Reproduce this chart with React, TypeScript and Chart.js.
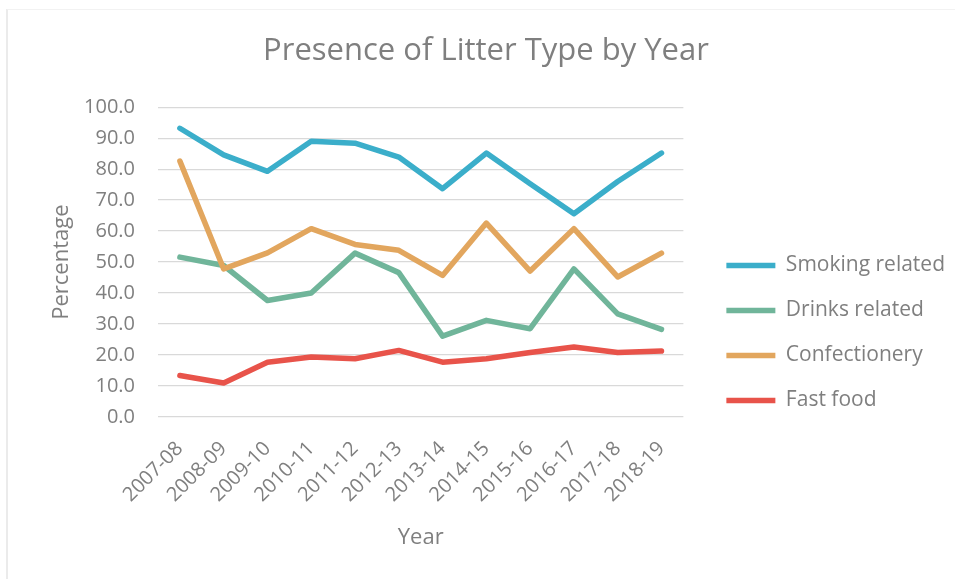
import React, { useEffect, useRef } from "react";
import { Chart, registerables } from "chart.js";

Chart.register(...registerables);

const years = ["2007-08", "2008-09", "2009-10", "2010-11", "2011-12", "2012-13", "2013-14", "2014-15", "2015-16", "2016-17", "2017-18", "2018-19"];
const smoking = [93.2, 84.6, 79.3, 89.0, 88.4, 83.9, 73.7, 85.2, 75.3, 65.6, 76.0, 85.2];
const drinks = [51.6, 48.9, 37.6, 40.0, 52.9, 46.6, 26.1, 31.2, 28.5, 47.8, 33.3, 28.3];
const confectionery = [82.6, 47.8, 53.0, 60.8, 55.7, 53.8, 45.7, 62.6, 47.1, 60.8, 45.2, 52.9];
const fastFood = [13.4, 11.0, 17.7, 19.4, 18.8, 21.5, 17.7, 18.8, 20.8, 22.6, 20.8, 21.3];
const seriesNames = ["Smoking related", "Drinks related", "Confectionery", "Fast food"];
const seriesColors = ["#3BAECA", "#70B59A", "#E2A65E", "#E8534A"];

const FONT = "'Open Sans', 'Liberation Sans', sans-serif";
const TEXT = "#7f7f7f";

export default function App() {
  const ref = useRef<HTMLCanvasElement | null>(null);
  useEffect(() => {
    if (!ref.current) return;
    const values = [smoking, drinks, confectionery, fastFood];
    const chart = new Chart(ref.current, {
      type: "line",
      data: {
        labels: years,
        datasets: values.map((v, i) => ({
          label: seriesNames[i],
          data: v,
          borderColor: seriesColors[i],
          backgroundColor: seriesColors[i],
          borderWidth: 5.5,
          borderCapStyle: "round",
          borderJoinStyle: "round",
          pointRadius: 0,
          tension: 0,
          order: 3 - i,
        })),
      },
      options: {
        responsive: false,
        animation: false,
        layout: { padding: { left: 17, right: 0, top: 0, bottom: 19 } },
        plugins: {
          tooltip: { enabled: false },
          title: {
            display: true,
            text: "Presence of Litter Type by Year",
            color: TEXT,
            font: { family: FONT, size: 31, weight: "normal" },
            padding: { top: 33, bottom: 37 },
          },
          legend: {
            position: "right",
            align: "start",
            fullSize: true,
            maxWidth: 400,
            title: { display: true, text: " ", padding: { top: 219, bottom: 0 }, font: { size: 10 } },
            labels: {
              usePointStyle: true,
              pointStyle: "line",
              pointStyleWidth: 49,
              color: TEXT,
              font: { family: FONT, size: 21 },
              padding: 24,
              sort: (a: any, b: any) => a.datasetIndex - b.datasetIndex,
            },
          },
        },
        scales: {
          x: {
            offset: true,
            grid: { display: false },
            border: { display: false },
            ticks: {
              color: TEXT,
              font: { family: FONT, size: 20 },
              minRotation: 45,
              maxRotation: 45,
              padding: 12,
            },
            title: {
              display: true,
              text: "Year",
              color: TEXT,
              font: { family: FONT, size: 22 },
              padding: { top: 0, bottom: 9 },
            },
            afterFit: (s: any) => {
              s.height = 143;
            },
          },
          y: {
            min: 0,
            max: 100,
            grid: { color: "#d9d9d9", lineWidth: 1.3, drawTicks: false },
            border: { display: false },
            ticks: {
              stepSize: 10,
              color: TEXT,
              font: { family: FONT, size: 20 },
              padding: 23,
              callback: (v: any) => Number(v).toFixed(1),
            },
            title: {
              display: true,
              text: "Percentage",
              color: TEXT,
              font: { family: FONT, size: 22 },
              padding: { top: 32, bottom: 0 },
            },
            afterFit: (s: any) => {
              s.width = 141;
            },
          },
          pad: {
            type: "linear",
            position: "right",
            display: true,
            grid: { display: false },
            border: { display: false },
            ticks: { display: false },
            afterFit: (s: any) => {
              s.width = 19;
            },
          },
        },
      } as any,
    });
    return () => chart.destroy();
  }, []);
  return (
    <div style={{ position: "absolute", left: 0, top: 0, width: 955, height: 579, background: "#fff" }}>
      <div style={{ position: "absolute", left: 6, top: 9, width: 949, height: 570, borderLeft: "2px solid #ebebeb", borderTop: "1px solid #f2f2f2" }} />
      <canvas ref={ref} width={955} height={579} style={{ position: "absolute", left: 0, top: 0 }} />
    </div>
  );
}
